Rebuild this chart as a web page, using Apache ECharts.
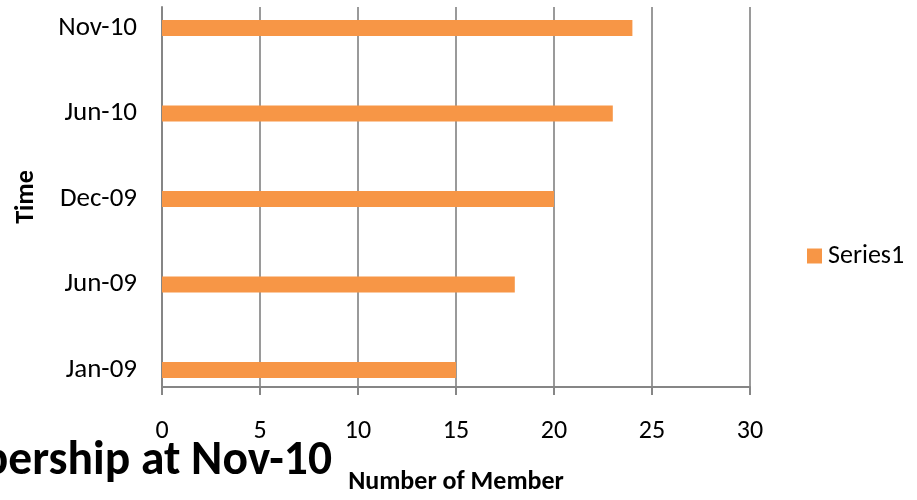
<!DOCTYPE html>
<html>
<head>
<meta charset="utf-8">
<script src="https://cdn.jsdelivr.net/npm/echarts@6/dist/echarts.min.js"></script>
<style>
html,body{margin:0;padding:0;background:#fff;}
#chart{width:917px;height:500px;}
</style>
</head>
<body>
<div id="chart"></div>
<script>
var categories = ['Jan-09', 'Jun-09', 'Dec-09', 'Jun-10', 'Nov-10'];
var seriesName = 'Series1';
var values = [15, 18, 20, 23, 24];
var xTicks = { min: 0, max: 30, interval: 5 };
var titleText = 'Membership at Nov-10';
var xName = 'Number of Member';
var yName = 'Time';

var FONT = 'Carlito, Calibri, "Noto Sans", sans-serif';
var chart = echarts.init(document.getElementById('chart'));
chart.setOption({
  animation: false,
  backgroundColor: '#ffffff',
  title: {
    text: titleText,
    right: 585,
    top: 438,
    padding: 0,
    textStyle: { fontFamily: FONT, fontSize: 47.5, fontWeight: 'bold', color: '#000' }
  },
  legend: {
    data: [seriesName],
    left: 807,
    top: 243,
    padding: 0,
    itemWidth: 15,
    itemHeight: 15,
    itemGap: 10,
    icon: 'rect',
    textStyle: { fontFamily: FONT, fontSize: 26, color: '#000', padding: [0, 0, 0, 1] }
  },
  grid: [
    { left: 162, right: 167, top: 7, bottom: 109, containLabel: false },
    { left: 162, right: 167, top: 28, bottom: 130, containLabel: false }
  ],
  xAxis: [
    {
      gridIndex: 0,
      type: 'value',
      min: xTicks.min, max: xTicks.max, interval: xTicks.interval,
      name: xName,
      nameLocation: 'middle',
      nameGap: 82,
      nameTextStyle: { fontFamily: FONT, fontSize: 26, fontWeight: 'bold', color: '#000' },
      axisLine: { show: true, lineStyle: { color: '#868686', width: 2 } },
      axisTick: { show: true, length: 8, lineStyle: { color: '#868686', width: 2 } },
      axisLabel: { margin: 31, fontFamily: FONT, fontSize: 26, color: '#000' },
      splitLine: { show: true, lineStyle: { color: '#9a9a9a', width: 2 } }
    },
    {
      gridIndex: 1,
      type: 'value',
      min: xTicks.min, max: xTicks.max, interval: xTicks.interval,
      show: false
    }
  ],
  yAxis: [
    {
      gridIndex: 0,
      type: 'category',
      data: categories,
      name: yName,
      nameLocation: 'middle',
      nameGap: 123,
      nameRotate: 90,
      nameTextStyle: { fontFamily: FONT, fontSize: 26, fontWeight: 'bold', color: '#000' },
      axisLine: { show: true, lineStyle: { color: '#868686', width: 2 } },
      axisTick: { show: false },
      axisLabel: { show: false },
      splitLine: { show: false }
    },
    {
      gridIndex: 1,
      type: 'category',
      data: categories,
      boundaryGap: false,
      axisLine: { show: false },
      axisTick: { show: false },
      axisLabel: { margin: 25, fontFamily: FONT, fontSize: 27, color: '#000' },
      splitLine: { show: false }
    }
  ],
  series: [
    {
      name: seriesName,
      type: 'bar',
      xAxisIndex: 1,
      yAxisIndex: 1,
      data: values,
      barWidth: 16,
      itemStyle: { color: '#F79646' }
    }
  ]
});
</script>
</body>
</html>
